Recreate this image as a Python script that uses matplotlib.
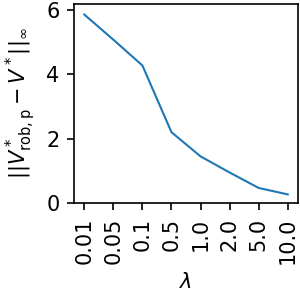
import matplotlib
matplotlib.use('Agg')
import matplotlib.pyplot as plt

lambdas = ['0.01', '0.05', '0.1', '0.5', '1.0', '2.0', '5.0', '10.0']
errors = [5.85, 5.07, 4.27, 2.2, 1.45, 0.95, 0.47, 0.27]


def plot() -> None:
    fig, ax = plt.subplots(figsize=(2, 2), dpi=150)
    ax.plot(range(len(lambdas)), errors, color='tab:blue', linewidth=1.0)
    ax.set_xticks(range(len(lambdas)))
    ax.set_xticklabels(lambdas, rotation=90)
    ax.set_ylim(0, 6.18)
    ax.set_yticks([0, 2, 4, 6])
    ax.set_xlabel(r'$\lambda$')
    ax.set_ylabel(r'$||V^*_{\mathrm{rob,p}} - V^*||_\infty$')
    fig.subplots_adjust(left=0.247, right=0.993, bottom=0.323, top=0.987)
    fig.savefig('out.png')


if __name__ == '__main__':
    plot()
